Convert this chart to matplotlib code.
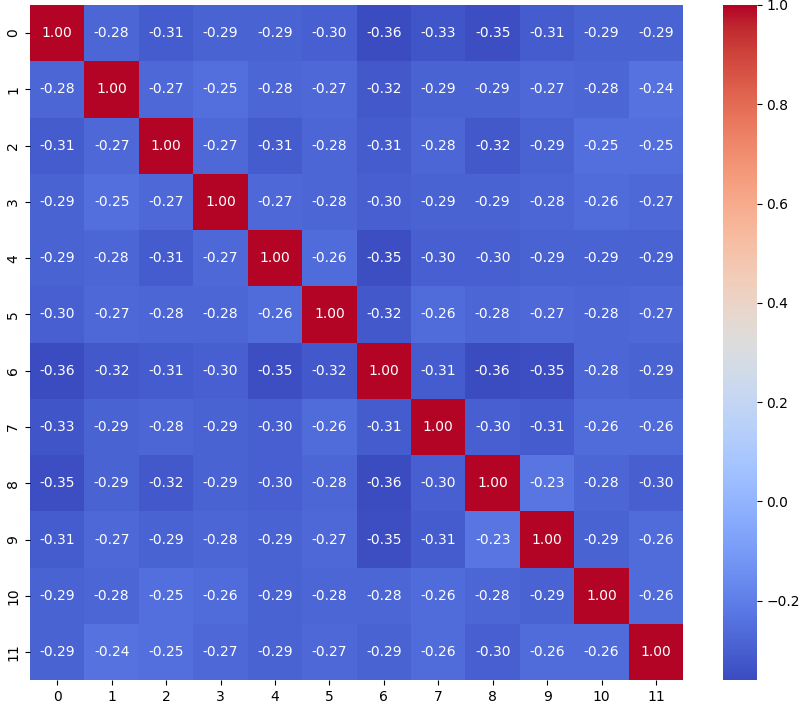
import matplotlib
matplotlib.use("Agg")
import matplotlib.pyplot as plt
import numpy as np
import seaborn as sns

labels = [str(i) for i in range(12)]
r0 = [1.00, -0.28, -0.31, -0.29, -0.29, -0.30, -0.36, -0.33, -0.35, -0.31, -0.29, -0.29]
r1 = [-0.28, 1.00, -0.27, -0.25, -0.28, -0.27, -0.32, -0.29, -0.29, -0.27, -0.28, -0.24]
r2 = [-0.31, -0.27, 1.00, -0.27, -0.31, -0.28, -0.31, -0.28, -0.32, -0.29, -0.25, -0.25]
r3 = [-0.29, -0.25, -0.27, 1.00, -0.27, -0.28, -0.30, -0.29, -0.29, -0.28, -0.26, -0.27]
r4 = [-0.29, -0.28, -0.31, -0.27, 1.00, -0.26, -0.35, -0.30, -0.30, -0.29, -0.29, -0.29]
r5 = [-0.30, -0.27, -0.28, -0.28, -0.26, 1.00, -0.32, -0.26, -0.28, -0.27, -0.28, -0.27]
r6 = [-0.36, -0.32, -0.31, -0.30, -0.35, -0.32, 1.00, -0.31, -0.36, -0.35, -0.28, -0.29]
r7 = [-0.33, -0.29, -0.28, -0.29, -0.30, -0.26, -0.31, 1.00, -0.30, -0.31, -0.26, -0.26]
r8 = [-0.35, -0.29, -0.32, -0.29, -0.30, -0.28, -0.36, -0.30, 1.00, -0.23, -0.28, -0.30]
r9 = [-0.31, -0.27, -0.29, -0.28, -0.29, -0.27, -0.35, -0.31, -0.23, 1.00, -0.29, -0.26]
r10 = [-0.29, -0.28, -0.25, -0.26, -0.29, -0.28, -0.28, -0.26, -0.28, -0.29, 1.00, -0.26]
r11 = [-0.29, -0.24, -0.25, -0.27, -0.29, -0.27, -0.29, -0.26, -0.30, -0.26, -0.26, 1.00]

corr = np.array([r0, r1, r2, r3, r4, r5, r6, r7, r8, r9, r10, r11])

fig = plt.figure(figsize=(8, 7.1), dpi=100)
ax = fig.add_axes([0.0375, 0.042, 0.8165, 0.951])
cax = fig.add_axes([0.904, 0.042, 0.042, 0.951])

sns.heatmap(corr, annot=True, fmt=".2f", cmap="coolwarm", ax=ax, cbar_ax=cax,
            xticklabels=labels, yticklabels=labels, annot_kws={"size": 10})
ax.set_yticklabels(labels, rotation=90, va="center")
ax.set_xticklabels(labels, rotation=0)
fig.savefig("out.png", dpi=100)
